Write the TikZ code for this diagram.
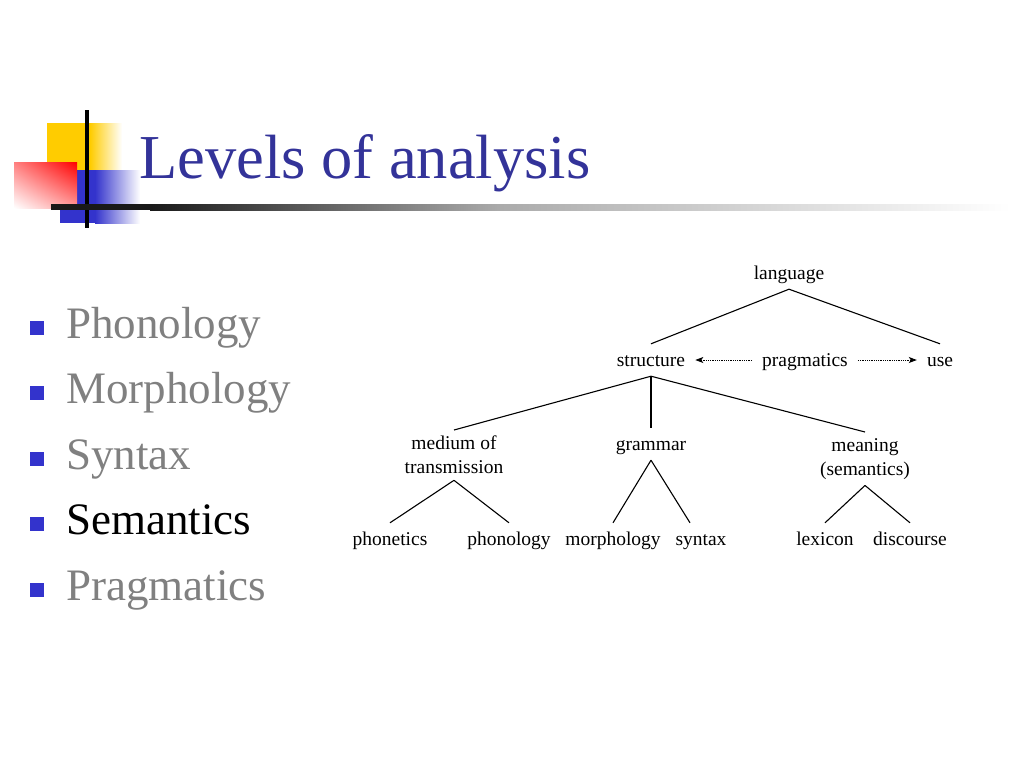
\documentclass[tikz,border=0pt]{standalone}
\usepackage{fontspec}
\setmainfont{Liberation Serif}
\usepackage{tikz}
\usetikzlibrary{positioning, arrows, arrows.meta, shadings}
\definecolor{titleblue}{RGB}{51,51,153}
\definecolor{bulblue}{RGB}{51,51,204}
\definecolor{logoyellow}{RGB}{255,204,0}
\definecolor{logored}{RGB}{255,0,0}
\tikzstyle{lvl}=[font=\fontsize{19.5}{24}\selectfont, inner xsep=2pt, inner ysep=6pt]
\tikzstyle{word}=[lvl, text height=16pt, text depth=4pt]
\tikzstyle{two}=[lvl, align=center, anchor=north]
\tikzstyle{bul}=[fill=bulblue, minimum size=14pt, inner sep=0pt]
\tikzstyle{item}=[font=\fontsize{45}{54}\selectfont, anchor=base west, inner sep=0pt, text=gray]
\tikzstyle{branch}=[line width=1.1pt]
\tikzstyle{dotarrow}=[->, line width=0.9pt, dash pattern=on 0.9pt off 0.9pt, shorten >=8pt, shorten <=8pt]

\begin{document}
\begin{tikzpicture}[x=1pt,y=-1pt,>={Stealth[length=8pt,width=6pt,inset=2pt]}]
    \useasboundingbox (0,0) rectangle (1024,768);
    % logo
    \fill [logoyellow] (47,123) rectangle (90,170);
    \shade [left color=logoyellow, right color=white] (90,123) rectangle (122,170);
    \fill [bulblue] (60,170) rectangle (95,223);
    \shade [left color=bulblue, right color=white] (95,170) rectangle (140,223);
    \shade [upper right=logored, upper left=logored!50, lower right=logored!40, lower left=white] (14,162) rectangle (77,208);
    \draw [line width=4pt] (87,110) -- (87,228);
    \fill [black!90] (51,204) rectangle (150,210);
    \shade [left color=black!90, right color=black!33] (150,204) rectangle (500,210);
    \shade [left color=black!33, right color=white] (500,204) rectangle (1010,210);

    \node [anchor=base west, inner sep=0pt, text=titleblue, font=\fontsize{62.5}{70}\selectfont] (title) at (139,178) {Levels of analysis};

    % bullet list
    \node [bul] (b1) at (37,327.5) {};
    \node [item] (i1) at (66,338) {Phonology};
    \node [bul] (b2) at (37,393) {};
    \node [item] (i2) at (66,403.5) {Morphology};
    \node [bul] (b3) at (37,458.5) {};
    \node [item] (i3) at (66,469) {Syntax};
    \node [bul] (b4) at (37,524) {};
    \node [item, text=black] (i4) at (66,534.5) {Semantics};
    \node [bul] (b5) at (37,589.5) {};
    \node [item] (i5) at (66,600) {Pragmatics};

    % tree
    \node [word, anchor=base] (lang) at (789,279) {language};
    \node [word, anchor=base] (struc) at (651,366) {structure};
    \node [word] (prag) [right of=struc, node distance=154pt] {pragmatics};
    \node [word] (use) [right of=struc, node distance=289pt] {use};
    \node [two] (medium) at (454,430) {medium of\\transmission};
    \node [word, anchor=base] (gram) at (651,450) {grammar};
    \node [two] (mean) at (865,432) {meaning\\(semantics)};
    \node [word, anchor=base] (phon) at (390,545) {phonetics};
    \node [word] (phonl) [right of=phon, node distance=119pt] {phonology};
    \node [word] (morph) [right of=phon, node distance=223pt] {morphology};
    \node [word] (syn) [right of=phon, node distance=311pt] {syntax};
    \node [word] (lex) [right of=phon, node distance=435pt] {lexicon};
    \node [word] (disc) [right of=phon, node distance=520pt] {discourse};

    \draw [branch] (lang.south) -- (struc.north);
    \draw [branch] (lang.south) -- (use.north);
    \draw [branch] (struc.south) -- (medium.north);
    \draw [branch] (struc.south) -- (gram.north);
    \draw [branch] (struc.south) -- (mean.north);
    \draw [branch] (medium.south) -- (phon.north);
    \draw [branch] (medium.south) -- (phonl.north);
    \draw [branch] (gram.south) -- (morph.north);
    \draw [branch] (gram.south) -- ([xshift=-11pt]syn.north);
    \draw [branch] (mean.south) -- (lex.north);
    \draw [branch] (mean.south) -- (disc.north);
    \draw [dotarrow] (prag.west) -- (struc.east);
    \draw [dotarrow] (prag.east) -- (use.west);

\end{tikzpicture}
\end{document}
